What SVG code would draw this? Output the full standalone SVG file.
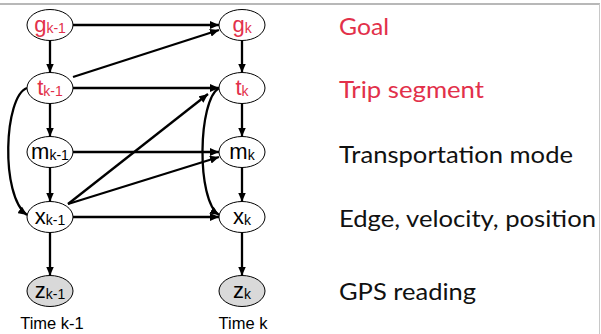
<svg xmlns="http://www.w3.org/2000/svg" width="601" height="334" viewBox="0 0 601 334">
<style>
.n{fill:#fff;stroke:#000;stroke-width:1}
.o{fill:#d9d9d9;stroke:#000;stroke-width:1}
.lb{font-family:"Liberation Sans",Arial,sans-serif;font-size:22px;fill:#000;text-anchor:middle}
.lb .s{font-size:14px}
.red{fill:#e2304a}
.e{fill:none;stroke:#000;stroke-width:2.3;marker-end:url(#ah)}
.rt{font-family:Lato,"Open Sans",sans-serif;font-size:24px;fill:#111}
.tm{font-family:"Liberation Sans",Arial,sans-serif;font-size:16.5px;fill:#000;text-anchor:middle}
</style>
<defs>
<marker id="ah" markerUnits="userSpaceOnUse" markerWidth="9" markerHeight="8" refX="9" refY="4" orient="auto">
<path d="M0,0 L9,4 L0,8 z" fill="#000"/>
</marker>
</defs>
<rect width="601" height="334" fill="#fff"/>
<line x1="0" y1="4" x2="600" y2="4" stroke="#a0a0a0" stroke-width="1.5"/>
<line x1="599.5" y1="4" x2="599.5" y2="334" stroke="#c8c8c8" stroke-width="1"/>
<g id="connectors">
<path class="e" d="M50,40.5 V72.5"/>
<path class="e" d="M50,103.5 V136.5"/>
<path class="e" d="M50,167.5 V201.5"/>
<path class="e" d="M50,232.5 V275.5"/>
<path class="e" d="M242,40.5 V72.5"/>
<path class="e" d="M242,103.5 V136.5"/>
<path class="e" d="M242,167.5 V201.5"/>
<path class="e" d="M242,232.5 V275.5"/>
<path class="e" d="M73,25 H219"/>
<path class="e" d="M73,77 L219,30"/>
<path class="e" d="M73,88 H219"/>
<path class="e" d="M73,152 H219"/>
<path class="e" d="M73,217 H219"/>
<path class="e" d="M68,204 L208,94"/>
<path class="e" d="M68,204 L219,157"/>
<path class="e" d="M27,88 C4,96 0,196 27,215"/>
<path class="e" d="M219,88 C198,100 196,200 219,215"/>
</g>
<g id="g_km1"><ellipse class="n" cx="50" cy="25" rx="23" ry="15.5"/><text class="lb red" x="50" y="31.5">g<tspan class="s" dy="1.5">k-1</tspan></text></g>
<g id="g_k"><ellipse class="n" cx="242" cy="25" rx="23" ry="15.5"/><text class="lb red" x="242" y="31.5">g<tspan class="s" dy="1.5">k</tspan></text></g>
<g id="t_km1"><ellipse class="n" cx="50" cy="88" rx="23" ry="15.5"/><text class="lb red" x="50" y="94.5">t<tspan class="s" dy="1.5">k-1</tspan></text></g>
<g id="t_k"><ellipse class="n" cx="242" cy="88" rx="23" ry="15.5"/><text class="lb red" x="242" y="94.5">t<tspan class="s" dy="1.5">k</tspan></text></g>
<g id="m_km1"><ellipse class="n" cx="50" cy="152" rx="23" ry="15.5"/><text class="lb" x="50" y="158.5">m<tspan class="s" dy="1.5">k-1</tspan></text></g>
<g id="m_k"><ellipse class="n" cx="242" cy="152" rx="23" ry="15.5"/><text class="lb" x="242" y="158.5">m<tspan class="s" dy="1.5">k</tspan></text></g>
<g id="x_km1"><ellipse class="n" cx="50" cy="217" rx="23" ry="15.5"/><text class="lb" x="50" y="223.5">x<tspan class="s" dy="1.5">k-1</tspan></text></g>
<g id="x_k"><ellipse class="n" cx="242" cy="217" rx="23" ry="15.5"/><text class="lb" x="242" y="223.5">x<tspan class="s" dy="1.5">k</tspan></text></g>
<g id="z_km1"><ellipse class="o" cx="50" cy="291" rx="23" ry="15.5"/><text class="lb" x="50" y="297.5">z<tspan class="s" dy="1.5">k-1</tspan></text></g>
<g id="z_k"><ellipse class="o" cx="242" cy="291" rx="23" ry="15.5"/><text class="lb" x="242" y="297.5">z<tspan class="s" dy="1.5">k</tspan></text></g>
<text class="tm" x="52" y="329">Time k-1</text>
<text class="tm" x="243" y="329">Time k</text>
<text class="rt" x="339" y="35" style="fill:#e2304a" textLength="50" lengthAdjust="spacingAndGlyphs">Goal</text>
<text class="rt" x="339" y="98" style="fill:#e2304a" textLength="145" lengthAdjust="spacingAndGlyphs">Trip segment</text>
<text class="rt" x="339" y="163" textLength="234" lengthAdjust="spacingAndGlyphs">Transportation mode</text>
<text class="rt" x="339" y="227" textLength="257" lengthAdjust="spacingAndGlyphs">Edge, velocity, position</text>
<text class="rt" x="339" y="300" textLength="137" lengthAdjust="spacingAndGlyphs">GPS reading</text>
</svg>
